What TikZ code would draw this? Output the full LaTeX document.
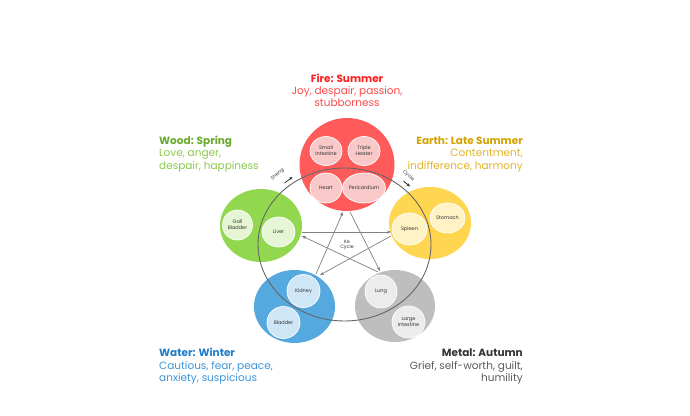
\documentclass[tikz,border=0pt]{standalone}
\usepackage{fontspec}
\setmainfont{Poppins}
\usetikzlibrary{shapes.geometric,arrows.meta}
\definecolor{firebig}{HTML}{FF5B5B}
\definecolor{firesm}{HTML}{F9C9C9}
\definecolor{woodbig}{HTML}{92D84E}
\definecolor{woodsm}{HTML}{E6F5D3}
\definecolor{earthbig}{HTML}{FFD650}
\definecolor{earthsm}{HTML}{FFF3C6}
\definecolor{waterbig}{HTML}{56A9DE}
\definecolor{watersm}{HTML}{CFE6F6}
\definecolor{metalbig}{HTML}{BEBEBE}
\definecolor{metalsm}{HTML}{ECECEC}
\definecolor{firet}{HTML}{FF1E1E}
\definecolor{firel}{HTML}{FF4A4A}
\definecolor{woodt}{HTML}{6AAA2E}
\definecolor{woodl}{HTML}{8CC84A}
\definecolor{eartht}{HTML}{D4A300}
\definecolor{earthl}{HTML}{E3B326}
\definecolor{watert}{HTML}{1E7CC8}
\definecolor{waterl}{HTML}{3D95D8}
\definecolor{metalt}{HTML}{333333}
\definecolor{metall}{HTML}{5A5A5A}
\tikzset{
  bigc/.style={ellipse, inner sep=0pt},
  smallc/.style={ellipse, inner sep=0pt, draw=white, line width=0.7pt,
    font=\fontsize{5}{5.8}\selectfont, text=black!80, align=center},
  ttl/.style={font=\fontsize{10.5}{12.5}\selectfont\bfseries, inner sep=0pt},
  lin/.style={font=\fontsize{10.5}{12.5}\selectfont, inner sep=0pt},
  kearrow/.style={draw=black!50, line width=0.7pt, -{Stealth[length=4pt,width=3.2pt]}},
  shengarrow/.style={draw=black!80, line width=0.8pt, -{Stealth[length=3.5pt,width=3pt]}},
  tiny/.style={font=\fontsize{4.8}{5.6}\selectfont, text=black!80, inner sep=0pt, align=center}
}
\begin{document}
\begin{tikzpicture}[x=1pt,y=-1pt]
\useasboundingbox[fill=white] (0,0) rectangle (690,415);

% big circles
\node[bigc, fill=firebig, minimum width=95pt, minimum height=93pt] (fire) at (347,164.5) {};
\node[bigc, fill=woodbig, minimum width=82pt, minimum height=73pt] (wood) at (261,225.5) {};
\node[bigc, fill=earthbig, minimum width=82pt, minimum height=72pt] (earth) at (430,223) {};
\node[bigc, fill=waterbig, minimum width=81pt, minimum height=73pt] (water) at (294.5,306.5) {};
\node[bigc, fill=metalbig, minimum width=80pt, minimum height=72pt] (metal) at (395,306) {};

% small circles
\node[smallc, fill=firesm, minimum width=32pt, minimum height=29pt] (si) at (326,151) {Small\\Intestine};
\node[smallc, fill=firesm, minimum width=32pt, minimum height=29pt] (th) at (364,151) {Triple\\Heater};
\node[smallc, fill=firesm, minimum width=32pt, minimum height=30pt] (heart) at (326,188) {Heart};
\node[smallc, fill=firesm, minimum width=32pt, minimum height=30pt] (peri) at (364,188) {Pericardium};
\node[smallc, fill=woodsm, minimum width=30pt, minimum height=30pt] (gall) at (237.5,225) {Gall\\Bladder};
\node[smallc, fill=woodsm, minimum width=33pt, minimum height=30pt] (liver) at (278.5,232) {Liver};
\node[smallc, fill=earthsm, minimum width=35pt, minimum height=32pt] (spleen) at (409.5,229) {Spleen};
\node[smallc, fill=earthsm, minimum width=35pt, minimum height=30pt] (stomach) at (447.5,218) {Stomach};
\node[smallc, fill=watersm, minimum width=33pt, minimum height=33pt] (kidney) at (303.5,291) {Kidney};
\node[smallc, fill=watersm, minimum width=33pt, minimum height=32pt] (bladder) at (283.5,322.5) {Bladder};
\node[smallc, fill=metalsm, minimum width=32pt, minimum height=33pt] (lung) at (381,291.5) {Lung};
\node[smallc, fill=metalsm, minimum width=33pt, minimum height=32pt] (li) at (408.5,322) {Large\\Intestine};

% Sheng cycle
\node[ellipse, draw=black!60, line width=0.9pt, inner sep=0pt, minimum width=173pt, minimum height=153pt] (sheng) at (344.5,244.5) {};
\node[tiny, rotate=40] (shenglbl) at (277.5,174.5) {Sheng};
\node[tiny, rotate=-40] (cyclelbl) at (408.5,176) {Cycle};
\coordinate (sa1) at (284.5,183);
\coordinate (sa2) at (292.5,177);
\coordinate (sb1) at (403.5,181);
\coordinate (sb2) at (410,186.5);
\draw[shengarrow] (sa1) -- (sa2);
\draw[shengarrow] (sb1) -- (sb2);

% Ke cycle
\coordinate (keLa) at (302,232);
\coordinate (keLb) at (302,236);
\coordinate (keSa) at (391,232);
\coordinate (keSb) at (391,236);
\coordinate (keKa) at (320,275);
\coordinate (keKb) at (316,274);
\coordinate (keHa) at (343,212);
\coordinate (keHb) at (350,212);
\coordinate (keMa) at (380,271);
\coordinate (keMb) at (378,272);
\draw[kearrow] (keLa) -- (keSa);
\draw[kearrow] (keSb) -- (keKa);
\draw[kearrow] (keKb) -- (keHa);
\draw[kearrow] (keHb) -- (keMa);
\draw[kearrow] (keMb) -- (keLb);
\node[tiny] (kelbl) at (347,245) {Ke\\Cycle};

% texts
\node[ttl, text=firet, anchor=base] (firetitle) at (347,82) {Fire: Summer};
\node[lin, text=firel, anchor=base] (fire1) at (347,94) {Joy, despair, passion,};
\node[lin, text=firel, anchor=base] (fire2) at (347,106) {stubborness};

\node[ttl, text=woodt, anchor=base west] (woodtitle) at (159,144) {Wood: Spring};
\node[lin, text=woodl, anchor=base west] (wood1) at (159,156.5) {Love, anger,};
\node[lin, text=woodl, anchor=base west] (wood2) at (159,169) {despair, happiness};

\node[ttl, text=eartht, anchor=base east] (earthtitle) at (523,144) {Earth: Late Summer};
\node[lin, text=earthl, anchor=base east] (earth1) at (523,156.5) {Contentment,};
\node[lin, text=earthl, anchor=base east] (earth2) at (523,169) {indifference, harmony};

\node[ttl, text=watert, anchor=base west] (watertitle) at (159,356.5) {Water: Winter};
\node[lin, text=waterl, anchor=base west] (water1) at (159,369) {Cautious, fear, peace,};
\node[lin, text=waterl, anchor=base west] (water2) at (159,381.5) {anxiety, suspicious};

\node[ttl, text=metalt, anchor=base east] (metaltitle) at (523,356.5) {Metal: Autumn};
\node[lin, text=metall, anchor=base east] (metal1) at (523,369) {Grief, self-worth, guilt,};
\node[lin, text=metall, anchor=base east] (metal2) at (523,381.5) {humility};
\end{tikzpicture}
\end{document}
